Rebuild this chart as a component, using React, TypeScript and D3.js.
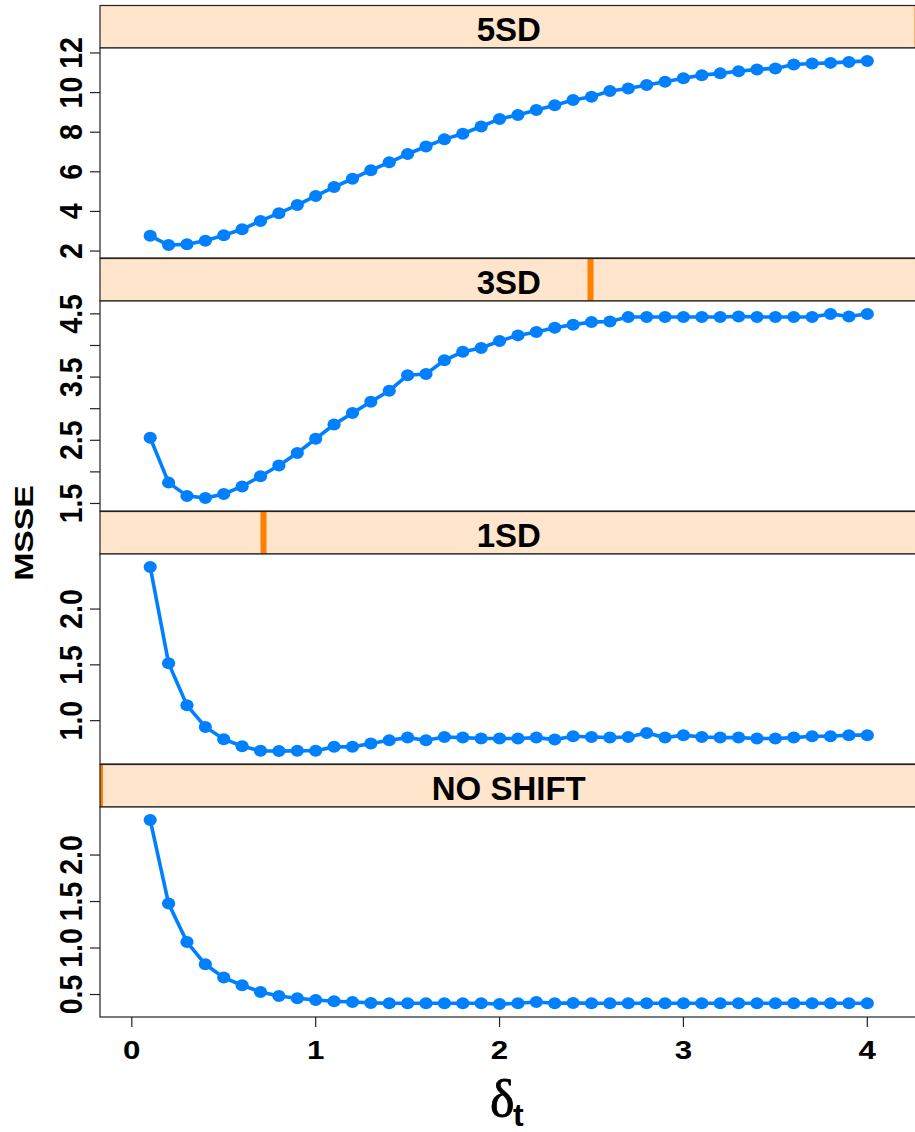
import React, { useEffect, useRef } from 'react';
import * as d3 from 'd3';

// x 轴: delta_t
const deltaT = [
  0.1, 0.2, 0.3, 0.4, 0.5, 0.6, 0.7, 0.8, 0.9, 1.0,
  1.1, 1.2, 1.3, 1.4, 1.5, 1.6, 1.7, 1.8, 1.9, 2.0,
  2.1, 2.2, 2.3, 2.4, 2.5, 2.6, 2.7, 2.8, 2.9, 3.0,
  3.1, 3.2, 3.3, 3.4, 3.5, 3.6, 3.7, 3.8, 3.9, 4.0,
];

// 各面板的 MSSE
const msse5SD = [
  2.77, 2.3, 2.34, 2.52, 2.8, 3.1, 3.52, 3.91, 4.32, 4.78,
  5.23, 5.65, 6.08, 6.48, 6.9, 7.28, 7.65, 7.92, 8.29, 8.67,
  8.87, 9.12, 9.36, 9.63, 9.79, 10.08, 10.21, 10.38, 10.55, 10.72,
  10.88, 10.97, 11.08, 11.17, 11.22, 11.42, 11.47, 11.5, 11.55, 11.6,
];
const msse3SD = [
  2.54, 1.83, 1.62, 1.585, 1.65, 1.77, 1.93, 2.1, 2.3, 2.525,
  2.75, 2.93, 3.11, 3.285, 3.53, 3.55, 3.765, 3.9, 3.96, 4.07,
  4.16, 4.215, 4.28, 4.33, 4.37, 4.38, 4.45, 4.45, 4.45, 4.45,
  4.45, 4.45, 4.46, 4.45, 4.45, 4.45, 4.45, 4.5, 4.46, 4.5,
];
const msse1SD = [
  2.378, 1.515, 1.137, 0.944, 0.834, 0.771, 0.73, 0.727, 0.73, 0.73,
  0.765, 0.765, 0.795, 0.825, 0.848, 0.825, 0.854, 0.848, 0.84, 0.84,
  0.84, 0.848, 0.83, 0.86, 0.854, 0.848, 0.854, 0.89, 0.848, 0.87,
  0.854, 0.848, 0.848, 0.84, 0.84, 0.848, 0.86, 0.86, 0.87, 0.87,
];
const msseNoShift = [
  2.378, 1.478, 1.064, 0.825, 0.682, 0.6, 0.528, 0.485, 0.46, 0.442,
  0.428, 0.42, 0.41, 0.407, 0.407, 0.407, 0.407, 0.407, 0.407, 0.397,
  0.407, 0.42, 0.407, 0.41, 0.407, 0.407, 0.407, 0.407, 0.407, 0.407,
  0.407, 0.407, 0.407, 0.407, 0.407, 0.407, 0.407, 0.407, 0.407, 0.407,
];

// 面板 (从上到下)
const panelNames = ['5SD', '3SD', '1SD', 'NO SHIFT'];
const shiftLevels = [5, 3, 1, 0];
const shiftRange = [0, 5];
const panelValues = [msse5SD, msse3SD, msse1SD, msseNoShift];

// 刻度
const panelTicks = [
  [2, 4, 6, 8, 10, 12],
  [1.5, 2, 2.5, 3, 3.5, 4, 4.5],
  [1, 1.5, 2],
  [0.5, 1, 1.5, 2],
];
const panelTickLabels = [
  ['2', '4', '6', '8', '10', '12'],
  ['1.5', '', '2.5', '', '3.5', '', '4.5'],
  ['1.0', '1.5', '2.0'],
  ['0.5', '1.0', '1.5', '2.0'],
];
const xTicks = [0, 1, 2, 3, 4];

const SANS = '"Liberation Sans", Arial, Helvetica, sans-serif';

function padExtent(vals: number[], frac = 0.07): [number, number] {
  const [lo, hi] = d3.extent(vals) as [number, number];
  const d = (hi - lo) * frac;
  return [lo - d, hi + d];
}

export default function App() {
  const ref = useRef<SVGSVGElement>(null);

  useEffect(() => {
    const width = 915;
    const height = 1132;
    const left = 100;
    const right = 917.5;
    const stripTop = 5.5;
    const stripH = 42.5;
    const panelH = 210;
    const rowH = 253;

    const svg = d3.select(ref.current);
    svg.selectAll('*').remove();
    svg.attr('width', width).attr('height', height);

    const x = d3.scaleLinear().domain(padExtent(deltaT)).range([left, right]);
    const shiftX = d3.scaleLinear().domain(shiftRange).range([left, right]);

    panelNames.forEach((name, k) => {
      const sTop = stripTop + k * rowH;
      const pTop = sTop + stripH;
      const pBottom = pTop + panelH;
      const vals = panelValues[k];
      const y = d3.scaleLinear().domain(padExtent(vals)).range([pBottom, pTop]);

      /* ===== strip ===== */
      const clipId = `strip-clip-${k}`;
      svg
        .append('clipPath')
        .attr('id', clipId)
        .append('rect')
        .attr('x', left)
        .attr('y', sTop)
        .attr('width', right - left)
        .attr('height', stripH);
      svg
        .append('rect')
        .attr('x', left)
        .attr('y', sTop)
        .attr('width', right - left)
        .attr('height', stripH)
        .attr('fill', '#ffe5cc');
      // shingle 指示条
      svg
        .append('rect')
        .attr('clip-path', `url(#${clipId})`)
        .attr('x', shiftX(shiftLevels[k]) - 3)
        .attr('y', sTop)
        .attr('width', 6)
        .attr('height', stripH)
        .attr('fill', '#ff7f00');
      svg
        .append('rect')
        .attr('x', left)
        .attr('y', sTop)
        .attr('width', right - left)
        .attr('height', stripH)
        .attr('fill', 'none')
        .attr('stroke', '#222')
        .attr('stroke-width', 1.2);
      svg
        .append('text')
        .attr('x', (left + right) / 2)
        .attr('y', sTop + 35)
        .attr('text-anchor', 'middle')
        .attr('font-family', SANS)
        .attr('font-weight', 'bold')
        .attr('font-size', 33)
        .text(name);

      /* ===== panel ===== */
      svg
        .append('rect')
        .attr('x', left)
        .attr('y', pTop)
        .attr('width', right - left)
        .attr('height', panelH)
        .attr('fill', '#fff')
        .attr('stroke', '#222')
        .attr('stroke-width', 1.2);

      // y 轴刻度
      const g = svg.append('g');
      panelTicks[k].forEach((t, i) => {
        g.append('line')
          .attr('x1', left - 10)
          .attr('x2', left)
          .attr('y1', y(t))
          .attr('y2', y(t))
          .attr('stroke', '#222')
          .attr('stroke-width', 1.2);
        const lab = panelTickLabels[k][i];
        if (lab) {
          g.append('text')
            .attr('transform', `translate(82,${y(t)}) rotate(-90) scale(1,1.12)`)
            .attr('text-anchor', 'middle')
            .attr('font-family', SANS)
            .attr('font-weight', 'bold')
            .attr('font-size', 28.5)
            .text(lab);
        }
      });

      // 折线 + 点
      const pts = deltaT.map((d, i) => [d, vals[i]] as [number, number]);
      const line = d3
        .line<[number, number]>()
        .x((d) => x(d[0]))
        .y((d) => y(d[1]));
      svg
        .append('path')
        .datum(pts)
        .attr('d', line)
        .attr('fill', 'none')
        .attr('stroke', '#0080ff')
        .attr('stroke-width', 3.6);
      svg
        .append('g')
        .selectAll('ellipse')
        .data(pts)
        .enter()
        .append('ellipse')
        .attr('cx', (d) => x(d[0]))
        .attr('cy', (d) => y(d[1]))
        .attr('rx', 6.6)
        .attr('ry', 6)
        .attr('fill', '#0080ff');

      // 底部面板: x 轴
      if (k === panelNames.length - 1) {
        xTicks.forEach((t) => {
          svg
            .append('line')
            .attr('x1', x(t))
            .attr('x2', x(t))
            .attr('y1', pBottom)
            .attr('y2', pBottom + 10)
            .attr('stroke', '#222')
            .attr('stroke-width', 1.2);
          svg
            .append('text')
            .attr('transform', `translate(${x(t)},1059) scale(1.18,1)`)
            .attr('text-anchor', 'middle')
            .attr('font-family', SANS)
            .attr('font-weight', 'bold')
            .attr('font-size', 26.5)
            .text(String(t));
        });
      }
    });

    // y 轴标题
    svg
      .append('text')
      .attr('transform', 'translate(32.5,533) rotate(-90) scale(1.3,1)')
      .attr('text-anchor', 'middle')
      .attr('font-family', SANS)
      .attr('font-weight', 'bold')
      .attr('font-size', 26)
      .text('MSSE');

    // x 轴标题 δt
    svg
      .append('text')
      .attr('x', 490)
      .attr('y', 1116)
      .attr('font-family', '"Liberation Serif", "Times New Roman", serif')
      .attr('font-size', 52)
      .attr('stroke', '#000')
      .attr('stroke-width', 0.8)
      .text('δ');
    svg
      .append('text')
      .attr('x', 513)
      .attr('y', 1126)
      .attr('font-family', SANS)
      .attr('font-weight', 'bold')
      .attr('font-size', 32)
      .text('t');
  }, []);

  return (
    <svg
      ref={ref}
      style={{ position: 'absolute', left: 0, top: 0, background: '#fff' }}
    />
  );
}
